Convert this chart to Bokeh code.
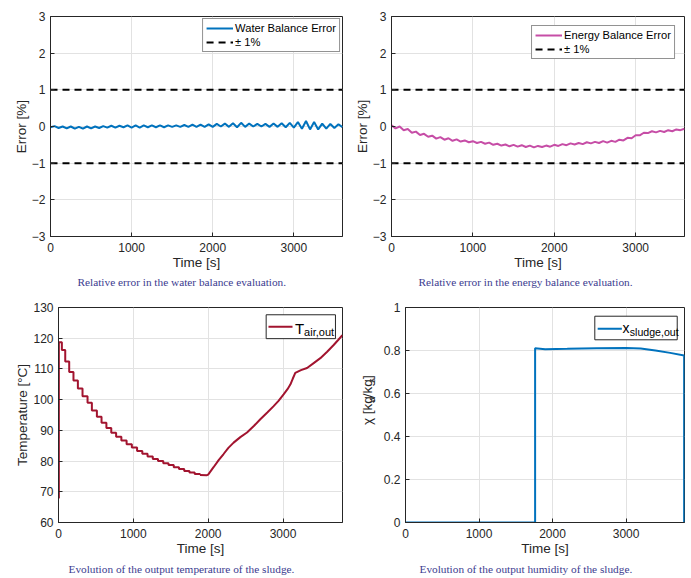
import numpy as np
from bokeh.plotting import figure
from bokeh.models import Range1d, FixedTicker, Legend, LegendItem, Label, Title
from bokeh.layouts import column, row
from bokeh.embed import file_html
from bokeh.resources import INLINE

# ---------------- data ----------------
err_t = list(range(0, 3601, 50))
water_err = [-0.02, 0.01, -0.04, 0.00, -0.05, 0.00, -0.06, -0.01, -0.06, 0.00,
             -0.05, 0.00, -0.04, 0.01, -0.03, 0.02, -0.03, 0.02, -0.02, 0.03,
             -0.03, 0.03, -0.03, 0.03, -0.02, 0.03, -0.02, 0.03, -0.02, 0.03,
             -0.01, 0.03, -0.01, 0.04, -0.01, 0.05, -0.01, 0.05, -0.01, 0.06,
             -0.01, 0.07, 0.00, 0.08, -0.01, 0.09, -0.02, 0.10, -0.01, 0.08,
             0.00, 0.07, 0.00, 0.07, -0.01, 0.08, -0.01, 0.09, -0.02, 0.10,
             -0.03, 0.12, -0.06, 0.15, -0.08, 0.12, -0.08, 0.08, -0.06, 0.07,
             -0.04, 0.06, -0.02]
energy_err = [0.03, -0.05, 0.00, -0.10, -0.07, -0.17, -0.14, -0.23, -0.20, -0.28,
              -0.25, -0.33, -0.29, -0.36, -0.32, -0.39, -0.35, -0.41, -0.38, -0.43,
              -0.40, -0.45, -0.42, -0.47, -0.44, -0.50, -0.47, -0.52, -0.49, -0.54,
              -0.50, -0.55, -0.51, -0.56, -0.52, -0.57, -0.53, -0.56, -0.52, -0.55,
              -0.50, -0.53, -0.48, -0.51, -0.46, -0.49, -0.45, -0.48, -0.43, -0.46,
              -0.42, -0.45, -0.40, -0.44, -0.39, -0.42, -0.36, -0.38, -0.31, -0.32,
              -0.24, -0.24, -0.17, -0.18, -0.13, -0.16, -0.12, -0.15, -0.10, -0.13,
              -0.08, -0.10, -0.06]
tol_limits = [0, 3600]
tol_value = 1.0

# temperature: staircase while cooling, then jagged rise
step_t = [0, 5, 45, 90, 143, 200, 259, 321, 388, 446, 513, 575, 640, 705, 770,
          840, 910, 980, 1050, 1120, 1190, 1260, 1330, 1400, 1470, 1540, 1610,
          1680, 1750, 1820, 1890]
step_T = [68.0, 118.7, 116.2, 112.4, 109.0, 106.2, 103.6, 101.1, 99.0, 96.5,
          94.4, 92.5, 90.8, 89.2, 87.9, 86.7, 85.5, 84.4, 83.3, 82.4, 81.5,
          80.7, 80.0, 79.3, 78.7, 78.0, 77.4, 76.8, 76.3, 75.8, 75.5]
rise_t = [1890, 1984, 2000, 2072, 2140, 2206, 2270, 2340, 2430, 2519, 2610,
          2697, 2790, 2875, 2940, 3008, 3060, 3098, 3130, 3164, 3240, 3321,
          3410, 3499, 3590, 3677, 3740, 3793]
rise_T = [75.5, 75.4, 75.6, 78.0, 80.3, 82.3, 84.3, 86.0, 87.8, 89.3, 91.4,
          93.6, 95.8, 97.9, 99.6, 101.7, 103.4, 104.9, 106.8, 108.7, 109.6,
          110.3, 111.9, 113.5, 115.6, 117.8, 119.5, 121.0]

hum_t = [0, 1763, 1763, 1900, 2200, 2600, 3000, 3200, 3400, 3600, 3790, 3790]
hum_x = [0, 0, 0.810, 0.806, 0.808, 0.811, 0.812, 0.809, 0.800, 0.789, 0.777, 0]

x_ticks = [0, 1000, 2000, 3000]
err_ticks = [-3, -2, -1, 0, 1, 2, 3]
temp_ticks = [60, 70, 80, 90, 100, 110, 120, 130]
hum_ticks = [0, 0.2, 0.4, 0.6, 0.8, 1.0]
hum_tick_labels = ["0", "0.2", "0.4", "0.6", "0.8", "1"]

captions = ["Relative error in the water balance evaluation.",
            "Relative error in the energy balance evaluation.",
            "Evolution of the output temperature of the sludge.",
            "Evolution of the output humidity of the sludge."]

BLUE = "#0072BD"
MAGENTA = "#C64DA6"
RED = "#A2142F"
AX = "#262626"
CAP = "#3b3b8f"
SANS = "Liberation Sans"


def make_fig(w, h, bl, br, bt, bb, xr, yr, yticks, ylabel):
    p = figure(width=w, height=h, x_range=Range1d(*xr), y_range=Range1d(*yr),
               output_backend="svg", toolbar_location=None,
               min_border_left=bl, min_border_right=br,
               min_border_top=bt, min_border_bottom=bb)
    p.xaxis.ticker = FixedTicker(ticks=x_ticks)
    p.yaxis.ticker = FixedTicker(ticks=yticks)
    p.xaxis.axis_label = "Time [s]"
    if ylabel:
        p.yaxis.axis_label = ylabel
    for ax in (p.xaxis, p.yaxis):
        ax.axis_label_text_font = SANS
        ax.axis_label_text_font_size = "13.5px"
        ax.axis_label_text_font_style = "normal"
        ax.axis_label_text_color = AX
        ax.major_label_text_font = SANS
        ax.major_label_text_font_size = "12px"
        ax.major_label_text_color = AX
        ax.axis_line_color = AX
        ax.major_tick_line_color = AX
        ax.major_tick_in = 4
        ax.major_tick_out = 0
        ax.minor_tick_line_color = None
        ax.axis_label_standoff = 0
    p.xaxis.major_label_standoff = 6
    p.yaxis.major_label_standoff = 5
    p.grid.grid_line_color = "#e2e2e2"
    p.grid.grid_line_width = 1
    p.outline_line_color = AX
    p.outline_line_alpha = 1.0
    p.outline_line_width = 1
    p.background_fill_color = "white"
    p.border_fill_color = "white"
    return p


def caption(p, text, offset, standoff):
    p.add_layout(Title(text=text, align="left", offset=offset, standoff=standoff,
                       text_font="Liberation Serif", text_font_size="11.3px",
                       text_font_style="normal", text_color=CAP), "below")


def std_legend(p, items, margin):
    lg = Legend(items=items, location="top_right", margin=margin,
                padding=3, spacing=2, glyph_width=27, glyph_height=12,
                label_height=12, label_standoff=2,
                label_text_font=SANS, label_text_font_size="11.2px",
                label_text_color="black", border_line_color=AX,
                border_line_width=1, background_fill_alpha=1.0)
    p.add_layout(lg)


# ---------------- panel 1: water balance error ----------------
p1 = make_fig(345, 289, 50, 3, 16, 52, (0, 3600), (-3, 3), err_ticks, "Error [%]")
rw = p1.line(err_t, water_err, line_color=BLUE, line_width=2)
rd1 = p1.line(tol_limits, [tol_value, tol_value], line_color="black", line_width=2, line_dash="7 5")
p1.line(tol_limits, [-tol_value, -tol_value], line_color="black", line_width=2, line_dash="7 5")
std_legend(p1, [LegendItem(label="Water Balance Error", renderers=[rw]),
                LegendItem(label="\u00b1 1%", renderers=[rd1])], 2)
caption(p1, captions[0], 27, 3)

# ---------------- panel 2: energy balance error ----------------
p2 = make_fig(346, 289, 46, 7, 15, 52, (0, 3600), (-3, 3), err_ticks, "Error [%]")
re = p2.line(err_t, energy_err, line_color=MAGENTA, line_width=2)
rd2 = p2.line(tol_limits, [tol_value, tol_value], line_color="black", line_width=2, line_dash="7 5")
p2.line(tol_limits, [-tol_value, -tol_value], line_color="black", line_width=2, line_dash="7 5")
std_legend(p2, [LegendItem(label="Energy Balance Error", renderers=[re]),
                LegendItem(label="\u00b1 1%", renderers=[rd2])], 9)
caption(p2, captions[1], 27, 3)

# ---------------- panel 3: temperature ----------------
p3 = make_fig(345, 289, 58, 3, 17, 56, (0, 3795), (60, 130), temp_ticks, "Temperature [\u00b0C]")
p3.step(step_t, step_T, mode="after", line_color=RED, line_width=2)
p3.line(rise_t, rise_T, line_color=RED, line_width=2)
# legend box (data units derived from axis limits)
p3.quad(left=[2775], right=[3701], bottom=[119.86], top=[127.63],
        fill_color="white", line_color=AX, line_width=1)
p3.line([2806, 3127], [123.75, 123.75], line_color=RED, line_width=2)
p3.add_layout(Label(x=3160, y=123.1, text="T", text_font=SANS, text_font_size="15px",
                    text_baseline="alphabetic", text_align="left", text_color="black"))
p3.add_layout(Label(x=3282, y=121.9, text="air,out", text_font=SANS, text_font_size="11px",
                    text_baseline="alphabetic", text_align="left", text_color="black"))
caption(p3, captions[2], 10, 5)

# ---------------- y-label strip for panel 4 (text with subscripts) ----------------
lab = figure(width=35, height=289, x_range=Range1d(0, 35), y_range=Range1d(0, 289),
             output_backend="svg", toolbar_location=None, x_axis_type=None, y_axis_type=None,
             min_border_left=0, min_border_right=0, min_border_top=0, min_border_bottom=0)
lab.grid.visible = False
lab.outline_line_color = None
lab.background_fill_color = "white"
lab.border_fill_color = "white"
ypieces = [("\u03c7 [kg", "13.5px", 21.7, 131.0), ("w", "9.5px", 26.2, 161.0),
           ("/kg", "13.5px", 21.7, 168.5), ("s", "9.5px", 26.2, 187.5),
           ("]", "13.5px", 21.7, 193.0)]
for txt, fs, xx, yy in ypieces:
    lab.add_layout(Label(x=xx, y=yy, text=txt, angle=np.pi / 2, text_font=SANS,
                         text_font_size=fs, text_baseline="middle",
                         text_align="left", text_color=AX))

# ---------------- panel 4: humidity ----------------
p4 = make_fig(311, 289, 22, 7, 18, 56, (0, 3795), (0, 1), hum_ticks, None)
p4.yaxis.major_label_overrides = {t: s for t, s in zip(hum_ticks, hum_tick_labels)}
p4.line(hum_t, hum_x, line_color=BLUE, line_width=2)
p4.quad(left=[2575], right=[3696], bottom=[0.8498], top=[0.9595],
        fill_color="white", line_color=AX, line_width=1)
p4.line([2614, 2943], [0.901, 0.901], line_color=BLUE, line_width=2)
p4.add_layout(Label(x=2950, y=0.9037, text="x", text_font=SANS, text_font_size="14px",
                    text_baseline="alphabetic", text_align="left", text_color="black"))
p4.add_layout(Label(x=3050, y=0.8880, text="sludge,out", text_font=SANS, text_font_size="10.6px",
                    text_baseline="alphabetic", text_align="left", text_color="black"))
caption(p4, captions[3], 14, 5)

layout = column(row(p1, p2), row(p3, lab, p4))
open("out.html", "w").write(file_html(layout, INLINE))
